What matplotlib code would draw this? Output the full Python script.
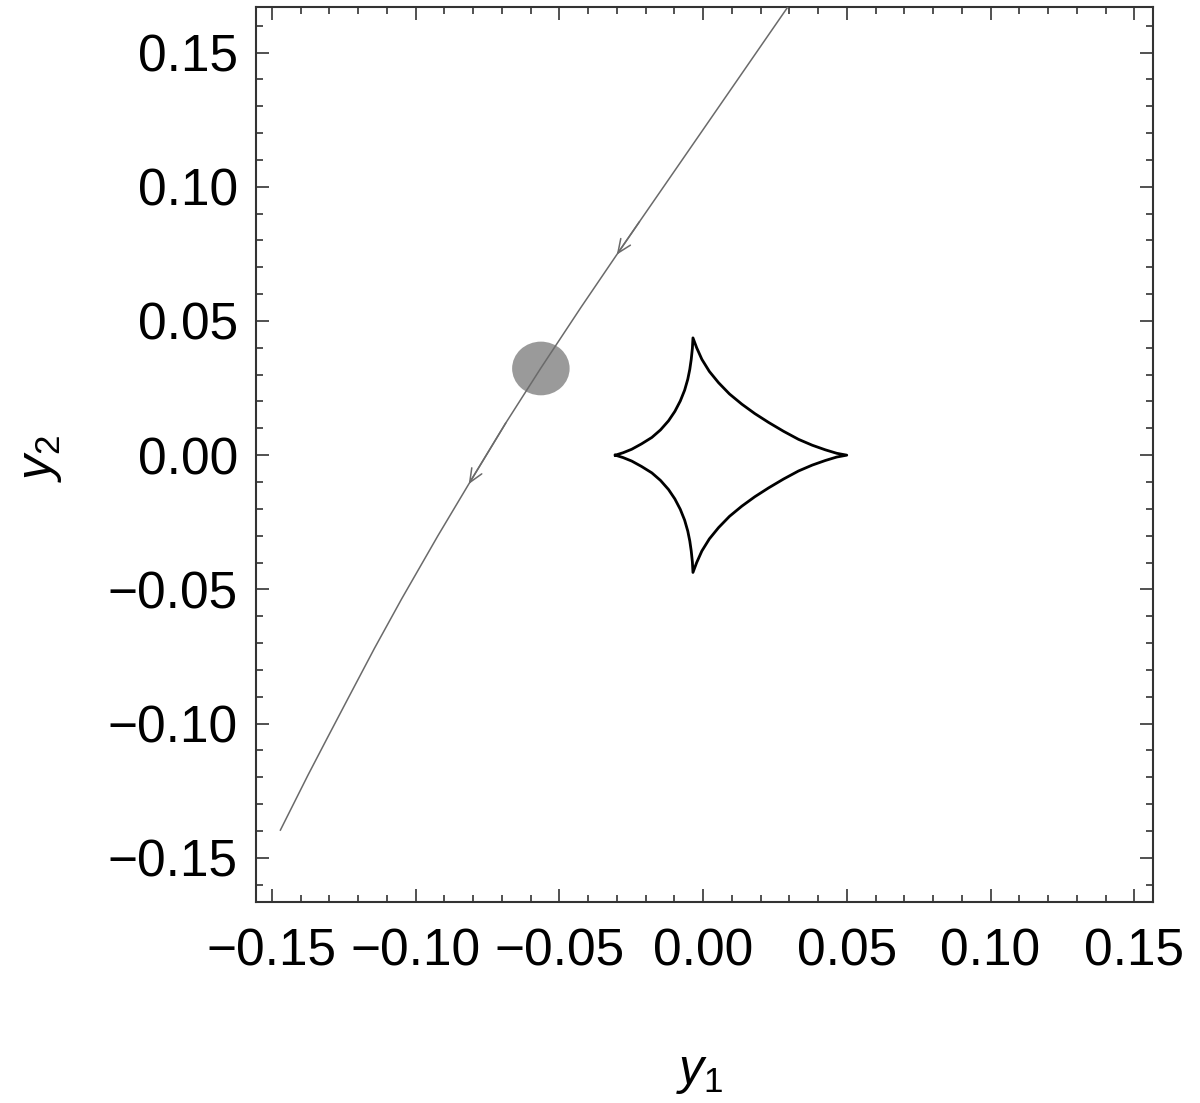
import numpy as np
import matplotlib.pyplot as plt
from matplotlib.patches import Ellipse
from matplotlib.ticker import MultipleLocator

plt.rcParams['font.family'] = 'Liberation Sans'
plt.rcParams['mathtext.fontset'] = 'custom'
plt.rcParams['mathtext.it'] = 'Liberation Sans:italic'
plt.rcParams['mathtext.rm'] = 'Liberation Sans'

# source trajectory, from top right down to lower left
traj_y1 = [0.0295, 0.0166, 0.0037, -0.0092, -0.0221, -0.0300, -0.0425, -0.0565, -0.0686,
           -0.0815, -0.0922, -0.1048, -0.1143, -0.1235, -0.1305, -0.1374, -0.1470]
traj_y2 = [0.1670, 0.1470, 0.1270, 0.1070, 0.0870, 0.0747, 0.0550, 0.0323, 0.0120,
           -0.0108, -0.0300, -0.0535, -0.0720, -0.0907, -0.1050, -0.1192, -0.1397]
arrow_idx = [5, 9]  # arrow heads sit on these trajectory points

# source disc
src_y1 = -0.0564
src_y2 = 0.0323
src_r = 0.010

# caustic, upper half: left cusp -> top cusp -> right cusp (lower half is its mirror)
caus_up_y1 = [-0.0305, -0.0278, -0.0248, -0.0214, -0.0178, -0.0148, -0.0120, -0.0098,
              -0.0079, -0.0064, -0.0053, -0.0046, -0.0041, -0.0037, -0.0035,
              -0.0022, -0.0004, 0.0022, 0.0054, 0.0092, 0.0135, 0.0180, 0.0228,
              0.0280, 0.0332, 0.0380, 0.0425, 0.0465, 0.0500]
caus_up_y2 = [0.0, 0.0009, 0.0022, 0.0042, 0.0066, 0.0094, 0.0128, 0.0163,
              0.0202, 0.0242, 0.0283, 0.0320, 0.0357, 0.0398, 0.0437,
              0.0400, 0.0357, 0.0312, 0.0270, 0.0228, 0.0190, 0.0155, 0.0122,
              0.0089, 0.0059, 0.0037, 0.0020, 0.0007, 0.0]

xlim = (-0.1555, 0.1565)
ylim = (-0.1665, 0.1670)

fig = plt.figure(figsize=(12, 11.03), dpi=100)
ax = fig.add_axes([0.2133, 0.1822, 0.7475, 0.8115])

line_col = '#6a6a6a'
ax.plot(traj_y1, traj_y2, color=line_col, lw=1.1, zorder=3)
for i in arrow_idx:
    ax.annotate('', xy=(traj_y1[i], traj_y2[i]), xytext=(traj_y1[i - 1], traj_y2[i - 1]),
                arrowprops=dict(arrowstyle='->,head_length=0.7,head_width=0.3',
                                color=line_col, lw=1.1, mutation_scale=14,
                                shrinkA=0, shrinkB=0), zorder=3)

ax.add_patch(Ellipse((src_y1, src_y2), 2 * src_r, 2 * src_r, facecolor='#9a9a9a',
                     edgecolor='none', zorder=2))

# closed caustic: upper half then mirrored lower half back to the left cusp
caus_y1 = caus_up_y1 + caus_up_y1[::-1]
caus_y2 = caus_up_y2 + [-v for v in caus_up_y2[::-1]]
ax.plot(caus_y1, caus_y2, color='black', lw=2.0, solid_joinstyle='round', zorder=3)

ax.set_xlim(*xlim)
ax.set_ylim(*ylim)
ax.xaxis.set_major_locator(MultipleLocator(0.05))
ax.yaxis.set_major_locator(MultipleLocator(0.05))
ax.xaxis.set_minor_locator(MultipleLocator(0.01))
ax.yaxis.set_minor_locator(MultipleLocator(0.01))
fmt = plt.FuncFormatter(lambda v, p: ('%.2f' % v).replace('-', '\u2212') if abs(v) > 1e-9 else '0.00')
ax.xaxis.set_major_formatter(fmt)
ax.yaxis.set_major_formatter(fmt)

ax.tick_params(which='both', direction='in', top=True, right=True, color='#222222', width=1.1)
ax.tick_params(which='major', length=9.5, labelsize=37)
ax.tick_params(which='minor', length=5)
ax.tick_params(axis='x', which='major', pad=18)
ax.tick_params(axis='y', which='major', pad=13)
for s in ax.spines.values():
    s.set_linewidth(1.5)
    s.set_color('#333333')

ax.set_xlabel('$y_1$', fontsize=36)
ax.xaxis.set_label_coords(0.495, -0.191)
ax.xaxis.label.set_va('center')
ax.set_ylabel('$y_2$', fontsize=36)
ax.yaxis.set_label_coords(-0.2397, 0.496)
ax.yaxis.label.set_va('center')

fig.savefig('out.png', dpi=100)
